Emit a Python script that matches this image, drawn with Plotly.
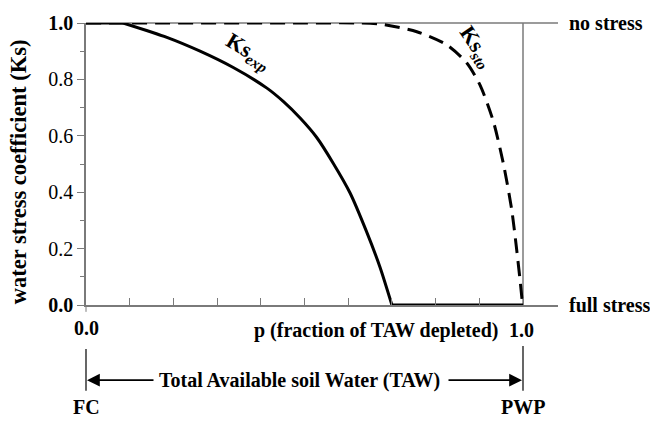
import plotly.graph_objects as go

# ---- data ----
p_exp = [0.0, 0.085, 0.185, 0.261, 0.337, 0.414, 0.452, 0.490, 0.528, 0.566, 0.604, 0.642, 0.673, 0.700, 1.0]
ks_exp = [1.0, 1.0, 0.949, 0.900, 0.842, 0.769, 0.721, 0.663, 0.594, 0.502, 0.398, 0.260, 0.133, 0.0, 0.0]

p_sto = [0.0, 0.5, 0.627, 0.680, 0.757, 0.825, 0.871, 0.902, 0.932, 0.955, 0.974, 0.986, 0.995, 0.999]
ks_sto = [1.0, 1.0, 1.0, 0.995, 0.969, 0.923, 0.859, 0.779, 0.652, 0.502, 0.340, 0.190, 0.063, 0.0]

y_tick_vals = [0.0, 0.2, 0.4, 0.6, 0.8, 1.0]
y_tick_text = ["<b>0.0</b>", "0.2", "0.4", "0.6", "0.8", "<b>1.0</b>"]
x_tick_vals = [0.0, 0.1, 0.2, 0.3, 0.4, 0.5, 0.6, 0.7, 0.8, 0.9, 1.0]

FONT = "Liberation Serif"
FS = 20
GRAY = "#7a7a7a"

# pixel geometry of the plot area
L, R, T, B = 86, 558, 16, 305
W, H = R - L, B - T
XMAX = W / 437.0


def px(xp):
    return (xp - L) / W


def py(yp):
    return (B - yp) / H


fig = go.Figure()

fig.add_trace(go.Scatter(x=p_sto, y=ks_sto, mode="lines",
                         line=dict(color="black", width=3, dash="15px,8px", shape="spline", smoothing=0.7),
                         cliponaxis=False, hoverinfo="skip"))
fig.add_trace(go.Scatter(x=p_exp[0:2], y=ks_exp[0:2], mode="lines",
                         line=dict(color="black", width=3), cliponaxis=False, hoverinfo="skip"))
fig.add_trace(go.Scatter(x=p_exp[1:14], y=ks_exp[1:14], mode="lines",
                         line=dict(color="black", width=3, shape="spline", smoothing=0.7),
                         cliponaxis=False, hoverinfo="skip"))
fig.add_trace(go.Scatter(x=p_exp[13:15], y=ks_exp[13:15], mode="lines",
                         line=dict(color="black", width=3), cliponaxis=False, hoverinfo="skip"))

shapes = []
# top reference line (no stress) and right boundary (p = 1)
shapes.append(dict(type="line", x0=0, x1=1, y0=1, y1=1, xref="paper", yref="paper",
                   line=dict(color=GRAY, width=1.5), layer="below"))
shapes.append(dict(type="line", x0=1, x1=1, y0=0, y1=1, xref="x", yref="paper",
                   line=dict(color=GRAY, width=1.5), layer="below"))
# small downward tick at origin
shapes.append(dict(type="line", x0=px(86), x1=px(86), y0=py(305), y1=py(312), xref="paper", yref="paper",
                   line=dict(color=GRAY, width=1)))
# bottom TAW bracket lines
shapes.append(dict(type="line", x0=px(86), x1=px(86), y0=py(350), y1=py(393), xref="paper", yref="paper",
                   line=dict(color="black", width=1.2)))
shapes.append(dict(type="line", x0=px(523), x1=px(523), y0=py(347), y1=py(393), xref="paper", yref="paper",
                   line=dict(color="black", width=1.2)))


def txt(x, y, t, size=FS, xanchor="center", **kw):
    d = dict(x=px(x), y=py(y), xref="paper", yref="paper", text=t, showarrow=False,
             xanchor=xanchor, yanchor="middle",
             font=dict(family=FONT, size=size, color="black"))
    d.update(kw)
    return d


ann = []
# arrows (tail offsets in pixels)
ann.append(dict(x=px(87), y=py(382), ax=68, ay=0, xref="paper", yref="paper",
                text="", showarrow=True, arrowhead=2,
                arrowsize=1.6, arrowwidth=1.6, arrowcolor="black"))
ann.append(dict(x=px(522), y=py(382), ax=-75, ay=0, xref="paper", yref="paper",
                text="", showarrow=True, arrowhead=2,
                arrowsize=1.6, arrowwidth=1.6, arrowcolor="black"))
ann.append(txt(299, 382, "<b>Total Available soil Water (TAW)</b>"))
ann.append(txt(86, 410, "<b>FC</b>"))
ann.append(txt(523, 410, "<b>PWP</b>"))

# x labels
ann.append(txt(86, 329, "<b>0.0</b>"))
ann.append(txt(521, 331, "<b>1.0</b>"))
ann.append(txt(376, 331, "<b>p (fraction of TAW depleted)</b>"))

# right side labels
ann.append(txt(567, 16, "<b>no stress</b>", xanchor="left"))
ann.append(txt(567, 305, "<b>full stress</b>", xanchor="left"))

# y title
ann.append(txt(18, 169, "<b>water stress coefficient (Ks)</b>", size=22.5, textangle=-90))

# curve labels
ann.append(txt(248, 46, "<b>Ks<sub><i>exp</i></sub></b>", size=22, textangle=31))
ann.append(txt(476, 41, "<b>Ks<sub><i>sto</i></sub></b>", size=22, textangle=56))

fig.update_layout(
    width=650, height=421,
    margin=dict(l=L, r=650 - R, t=T, b=421 - B),
    paper_bgcolor="white", plot_bgcolor="white",
    showlegend=False,
    font=dict(family=FONT, size=FS, color="black"),
    annotations=ann,
    shapes=shapes,
    xaxis=dict(range=[0, XMAX], showgrid=False, zeroline=False,
               showline=True, linecolor=GRAY, linewidth=1.5,
               tickvals=x_tick_vals, ticks="inside", ticklen=7, tickcolor=GRAY, tickwidth=1,
               showticklabels=False),
    yaxis=dict(range=[0, 1], showgrid=False, zeroline=False,
               showline=True, linecolor=GRAY, linewidth=1.5,
               tickvals=y_tick_vals, ticktext=y_tick_text,
               ticks="outside", ticklen=7, tickcolor=GRAY, tickwidth=1,
               minor=dict(tickvals=[0.1, 0.3, 0.5, 0.7, 0.9], ticks="outside", ticklen=4, tickcolor=GRAY),
               tickfont=dict(family=FONT, size=FS, color="black")),
)

fig.write_html("out.html")
